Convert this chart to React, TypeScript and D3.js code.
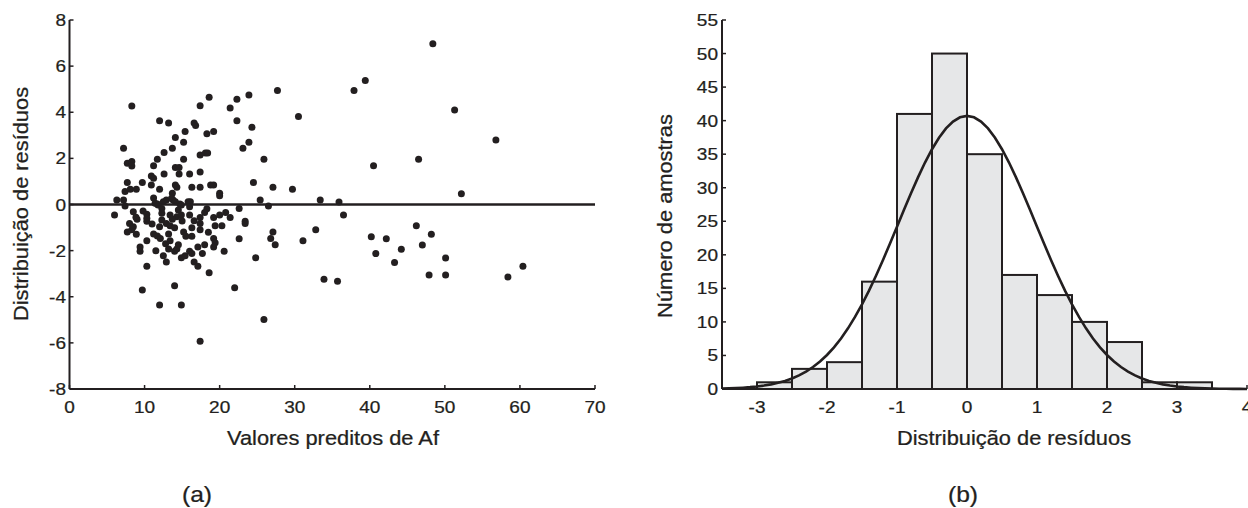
import React from "react";
import * as d3 from "d3";

// ---------- Data ----------
// Scatter (a): [predicted Af, residual]
const residualPoints: [number, number][] = [
  [8.3, 4.27], [12.0, 3.63], [13.2, 3.53], [7.2, 2.44], [7.7, 1.79], [8.3, 1.86], [8.3, 1.67], [7.7, 0.95], [9.7, 0.95], [7.4, 0.56], [8.1, 0.66], [8.9, 0.66],
  [11.2, 1.68], [11.7, 1.96], [12.6, 2.25], [13.7, 2.44], [14.1, 2.9], [15.2, 2.7], [15.4, 3.16], [16.6, 3.53], [16.8, 3.43], [17.4, 4.28], [18.6, 4.65], [18.3, 3.07], [19.2, 3.16],
  [17.4, 2.15], [18.1, 2.23], [18.4, 2.23], [15.2, 1.96], [14.1, 1.6], [14.6, 1.6], [12.6, 1.32], [10.9, 1.24], [11.2, 1.14], [14.6, 1.32], [16.0, 1.32], [17.4, 1.41],
  [10.9, 0.85], [12.0, 0.66], [14.1, 0.85], [14.3, 0.75], [16.3, 0.75], [17.4, 0.75], [18.8, 0.85], [19.2, 0.85], [20.0, 0.49], [20.0, 0.38], [13.7, 0.49],
  [21.4, 4.18], [22.3, 4.56], [23.9, 4.75], [27.7, 4.94], [37.9, 4.94], [22.3, 3.63], [24.3, 3.35], [23.9, 2.7], [23.1, 2.44], [30.5, 3.82], [25.9, 1.96], [24.5, 0.95], [27.1, 0.75], [29.7, 0.66],
  [48.4, 6.97], [39.4, 5.38], [51.3, 4.1], [56.8, 2.8], [40.5, 1.68], [46.5, 1.96], [52.2, 0.47],
  [6.3, 0.2], [7.2, 0.2], [6.0, -0.46], [11.2, 0.28], [12.9, 0.2], [13.8, 0.2], [11.7, 0.02], [14.7, 0.02], [16.1, 0.12], [25.4, 0.2], [26.5, -0.07], [33.4, 0.2], [35.9, 0.11], [36.5, -0.46], [22.6, -0.17], [7.4, -0.07],
  [11.4, 0.05], [11.8, -0.02], [12.3, -0.17], [12.5, 0.12], [13.6, 0.27], [14.1, 0.12], [14.9, -0.02], [15.8, 0.12],
  [8.5, -0.31], [9.8, -0.28], [10.3, -0.42], [12.3, -0.38], [13.4, -0.46], [14.3, -0.53], [14.5, -0.24], [14.9, -0.46], [16.0, -0.46], [16.0, -0.1], [17.4, -0.56], [18.0, -0.35], [18.3, -0.18], [19.2, -0.56], [20.0, -0.46], [20.8, -0.35], [21.4, -0.56],
  [9.0, -0.64], [10.3, -0.73], [8.0, -0.82], [7.7, -1.19], [8.3, -1.1], [8.9, -1.29], [8.5, -0.96], [8.85, -0.55], [10.3, -0.6],
  [10.3, -1.57], [9.4, -2.03], [9.4, -1.84], [10.3, -2.68], [9.7, -3.71], [12.0, -4.36], [14.9, -4.36], [14.0, -3.52], [17.4, -5.93], [25.9, -4.99], [22.0, -3.61], [18.6, -2.96], [12.9, -2.49], [12.5, -2.22],
  [11.2, -1.28], [11.7, -1.37], [12.1, -1.47], [12.0, -0.96], [12.3, -0.67], [13.2, -1.28], [13.4, -1.57], [13.2, -1.93], [14.0, -2.03], [14.3, -1.93], [14.5, -1.74],
  [12.9, -0.82], [13.4, -0.92], [14.0, -1.01], [13.7, -0.64], [15.2, -1.19], [15.5, -1.38], [16.3, -1.01], [16.3, -1.38], [14.9, -2.31], [15.4, -2.22], [16.0, -2.03], [16.3, -2.12], [16.6, -2.49], [17.1, -2.68],
  [17.1, -1.84], [17.7, -2.12], [18.0, -1.74], [17.4, -1.1], [17.4, -0.82], [19.4, -0.92], [19.2, -1.47], [19.4, -1.66], [19.2, -1.84], [20.3, -0.92], [20.6, -2.03],
  [22.6, -1.48], [23.4, -0.73], [23.4, -0.82], [24.8, -2.31], [26.8, -1.47], [27.1, -1.19], [27.4, -1.74],
  [31.1, -1.57], [32.8, -1.1], [40.2, -1.4], [40.8, -2.13], [42.2, -1.48], [44.2, -1.94], [43.3, -2.51], [46.2, -0.92], [48.2, -1.29], [47.0, -1.76], [50.1, -2.32], [47.9, -3.06], [50.1, -3.06], [33.9, -3.24], [35.7, -3.33], [58.4, -3.14], [60.4, -2.68],
  [15.0, -0.72], [16.6, -0.7], [11.0, -0.85], [12.8, -1.7], [18.5, -1.2], [11.5, -2.0],
];
const scatterXTicks = [0, 10, 20, 30, 40, 50, 60, 70];
const scatterYTicks = [-8, -6, -4, -2, 0, 2, 4, 6, 8];

// Histogram (b): bins of width 0.5
const binStarts = [-3, -2.5, -2, -1.5, -1, -0.5, 0, 0.5, 1, 1.5, 2, 2.5, 3];
const binCounts = [1, 3, 4, 16, 41, 50, 35, 17, 14, 10, 7, 1, 1];
const binWidth = 0.5;
const histXTicks = [-3, -2, -1, 0, 1, 2, 3, 4];
const histYTicks = [0, 5, 10, 15, 20, 25, 30, 35, 40, 45, 50, 55];
// Fitted normal curve parameters
const fitMean = 0;
const fitSd = 0.98;
const sampleSize = 200;

// ---------- Styles ----------
const INK = "#231f20";
const FONT = "'Liberation Sans', Arial, Helvetica, sans-serif";
const STRETCH = 1.12;

function T({ x, y, rot = 0, size, anchor = "middle", children }: any) {
  return (
    <text
      transform={`translate(${x},${y}) rotate(${rot}) scale(${STRETCH},1)`}
      fontSize={size}
      textAnchor={anchor}
      fontFamily={FONT}
      fill={INK}
      stroke={INK}
      strokeWidth={0.25}
    >
      {children}
    </text>
  );
}

export default function App() {
  // Panel (a)
  const ax = d3.scaleLinear().domain([0, 70]).range([69.5, 595]);
  const ay = d3.scaleLinear().domain([-8, 8]).range([389, 20]);
  // Panel (b)
  const bx = d3.scaleLinear().domain([-3.5, 4]).range([722, 1247]);
  const by = d3.scaleLinear().domain([0, 55]).range([389, 20]);

  const curvePts: [number, number][] = d3.range(-3.5, 4.0001, 0.1).map((v) => {
    const z = (v - fitMean) / fitSd;
    const dens = Math.exp(-0.5 * z * z) / (fitSd * Math.sqrt(2 * Math.PI));
    return [v, dens * sampleSize * binWidth];
  });
  const curvePath = d3
    .line<[number, number]>()
    .x((d) => bx(d[0]))
    .y((d) => by(d[1]))(curvePts);

  const tick = 4;
  const tickSize = 17;
  const labelSize = 19.5;

  return (
    <svg
      width={1248}
      height={508}
      style={{ position: "absolute", left: 0, top: 0, background: "#fff" }}
    >
      {/* ---------- Panel (a) ---------- */}
      <g>
        {residualPoints.map((p, i) => (
          <circle key={i} cx={ax(p[0])} cy={ay(p[1])} r={3.5} fill={INK} />
        ))}
        {/* zero line */}
        <line x1={ax(0)} x2={ax(70)} y1={ay(0)} y2={ay(0)} stroke={INK} strokeWidth={2.5} />
        {/* axes */}
        <line x1={ax(0)} x2={ax(0)} y1={ay(-8)} y2={ay(8)} stroke={INK} strokeWidth={2} />
        <line x1={ax(0)} x2={ax(70)} y1={ay(-8)} y2={ay(-8)} stroke={INK} strokeWidth={2.2} />
        {scatterYTicks.map((t) => (
          <g key={"ay" + t}>
            <line x1={ax(0)} x2={ax(0) + tick} y1={ay(t)} y2={ay(t)} stroke={INK} strokeWidth={1.5} />
            <T x={66} y={ay(t) + 6} size={tickSize} anchor="end">{t}</T>
          </g>
        ))}
        {scatterXTicks.map((t) => (
          <g key={"ax" + t}>
            <line x1={ax(t)} x2={ax(t)} y1={ay(-8)} y2={ay(-8) - tick} stroke={INK} strokeWidth={1.5} />
            <T x={ax(t)} y={413} size={tickSize}>{t}</T>
          </g>
        ))}
        <T x={28} y={204} rot={-90} size={labelSize}>Distribuição de resíduos</T>
        <T x={333} y={445} size={labelSize}>Valores preditos de Af</T>
        <T x={197} y={502} size={22}>(a)</T>
      </g>

      {/* ---------- Panel (b) ---------- */}
      <g>
        {binStarts.map((s, i) => (
          <rect
            key={i}
            x={bx(s)}
            y={by(binCounts[i])}
            width={bx(s + binWidth) - bx(s)}
            height={by(0) - by(binCounts[i])}
            fill="#e6e7e8"
            stroke={INK}
            strokeWidth={2}
          />
        ))}
        <path d={curvePath || ""} fill="none" stroke={INK} strokeWidth={2.6} />
        <line x1={bx(-3.5)} x2={bx(-3.5)} y1={by(0)} y2={by(55)} stroke={INK} strokeWidth={2} />
        <line x1={bx(-3.5)} x2={bx(4)} y1={by(0)} y2={by(0)} stroke={INK} strokeWidth={2.2} />
        {histYTicks.map((t) => (
          <g key={"by" + t}>
            <line x1={bx(-3.5)} x2={bx(-3.5) + tick} y1={by(t)} y2={by(t)} stroke={INK} strokeWidth={1.5} />
            <T x={718} y={by(t) + 6} size={tickSize} anchor="end">{t}</T>
          </g>
        ))}
        {histXTicks.map((t) => (
          <g key={"bx" + t}>
            <line x1={bx(t)} x2={bx(t)} y1={by(0)} y2={by(0) - tick} stroke={INK} strokeWidth={1.5} />
            <T x={bx(t)} y={413} size={tickSize}>{t}</T>
          </g>
        ))}
        <T x={672} y={216} rot={-90} size={labelSize}>Número de amostras</T>
        <T x={1014} y={445} size={labelSize}>Distribuição de resíduos</T>
        <T x={963} y={502} size={22}>(b)</T>
      </g>
    </svg>
  );
}
